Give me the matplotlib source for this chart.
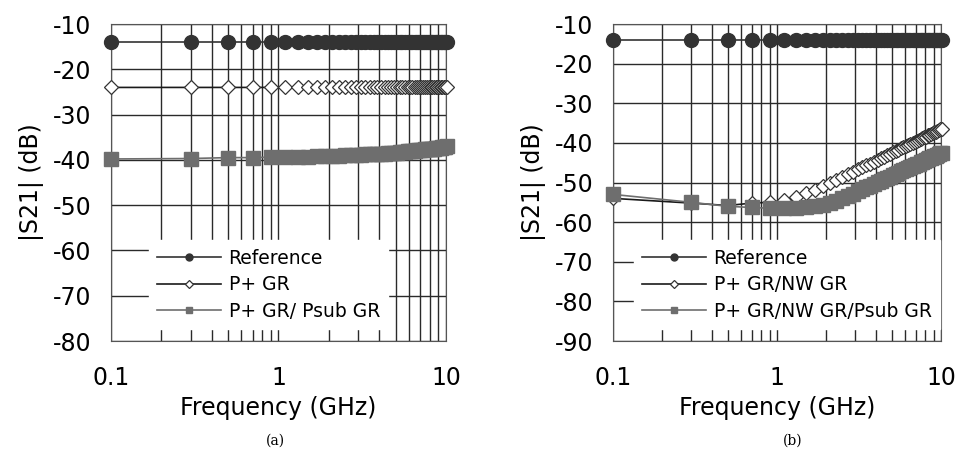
import numpy as np
import matplotlib.pyplot as plt

# frequency sweep (GHz)
freq = [0.1, 0.3, 0.5, 0.7, 0.9, 1.1, 1.3, 1.5, 1.7, 1.9,
        2.1, 2.3, 2.5, 2.7, 2.9, 3.1, 3.3, 3.5, 3.7, 3.9,
        4.1, 4.3, 4.5, 4.7, 4.9, 5.1, 5.3, 5.5, 5.7, 5.9,
        6.1, 6.3, 6.5, 6.7, 6.9, 7.1, 7.3, 7.5, 7.7, 7.9,
        8.1, 8.3, 8.5, 8.7, 8.9, 9.1, 9.3, 9.5, 9.7, 9.9, 10.1]

# (a)
ref_a = [-14.0, -14.0, -14.0, -14.0, -14.0, -14.0, -14.0, -14.0, -14.0, -14.0,
         -14.0, -14.0, -14.0, -14.0, -14.0, -14.0, -14.0, -14.0, -14.0, -14.0,
         -14.0, -14.0, -14.0, -14.0, -14.0, -14.0, -14.0, -14.0, -14.0, -14.0,
         -14.0, -14.0, -14.0, -14.0, -14.0, -14.0, -14.0, -14.0, -14.0, -14.0,
         -14.0, -14.0, -14.0, -14.0, -14.0, -14.0, -14.0, -14.0, -14.0, -14.0, -14.0]
pgr_a = [-24.0, -24.0, -24.0, -24.0, -24.0, -24.0, -24.0, -24.0, -24.0, -24.0,
         -24.0, -24.0, -24.0, -24.0, -24.0, -24.0, -24.0, -24.0, -24.0, -24.0,
         -24.0, -24.0, -24.0, -24.0, -24.0, -24.0, -24.0, -24.0, -24.0, -24.0,
         -23.9, -23.9, -23.9, -23.9, -23.9, -23.9, -23.9, -23.9, -23.9, -23.9,
         -23.9, -23.9, -23.9, -23.9, -23.9, -23.9, -23.9, -23.9, -23.9, -23.9, -23.9]
psub_a = [-39.8, -39.7, -39.5, -39.5, -39.4, -39.4, -39.3, -39.3, -39.2, -39.2,
          -39.1, -39.1, -39.0, -39.0, -38.9, -38.9, -38.8, -38.8, -38.7, -38.7,
          -38.6, -38.6, -38.5, -38.5, -38.4, -38.4, -38.3, -38.3, -38.2, -38.1,
          -38.1, -38.0, -38.0, -37.9, -37.9, -37.8, -37.8, -37.7, -37.7, -37.6,
          -37.6, -37.5, -37.5, -37.4, -37.4, -37.3, -37.3, -37.2, -37.2, -37.1, -37.0]

# (b)
ref_b = ref_a
nw_b = [-54.0, -55.2, -55.8, -55.2, -55.0, -54.5, -53.6, -52.7, -51.8, -51.0,
        -50.1, -49.3, -48.6, -47.9, -47.3, -46.7, -46.2, -45.6, -45.2, -44.7,
        -44.3, -43.9, -43.5, -43.1, -42.7, -42.4, -42.0, -41.7, -41.4, -41.1,
        -40.8, -40.5, -40.3, -40.0, -39.7, -39.5, -39.3, -39.0, -38.8, -38.6,
        -38.4, -38.1, -37.9, -37.7, -37.5, -37.3, -37.2, -37.0, -36.8, -36.6, -36.4]
psub_b = [-53.0, -55.0, -56.0, -56.3, -56.5, -56.5, -56.5, -56.3, -56.0, -55.7,
          -55.2, -54.6, -54.0, -53.4, -52.8, -52.2, -51.7, -51.2, -50.8, -50.3,
          -49.9, -49.5, -49.2, -48.8, -48.5, -48.1, -47.8, -47.5, -47.2, -46.9,
          -46.6, -46.4, -46.1, -45.9, -45.6, -45.4, -45.2, -44.9, -44.7, -44.5,
          -44.3, -44.1, -43.9, -43.7, -43.5, -43.3, -43.2, -43.0, -42.8, -42.6, -42.5]

plt.rcParams['font.family'] = ['DejaVu Sans']
plt.rcParams['axes.unicode_minus'] = False

fig = plt.figure(figsize=(9.78, 4.5), dpi=100)
ax1 = fig.add_axes([0.1135, 0.2422, 0.3425, 0.7044])
ax2 = fig.add_axes([0.6268, 0.2422, 0.3354, 0.7044])


def draw(ax, ref, s2, s3, names, ylo, leg_anchor):
    ax.plot(freq, ref, color='#333333', lw=1.2, marker='o', ms=10,
            mfc='#333333', mec='#333333', label=names[0], zorder=3, clip_on=False)
    ax.plot(freq, s2, color='#1a1a1a', lw=1.2, marker='D', ms=7.5,
            mfc='white', mec='#333333', mew=0.9, label=names[1], zorder=4, clip_on=False)
    ax.plot(freq, s3, color='#6e6e6e', lw=1.2, marker='s', ms=10,
            mfc='#6e6e6e', mec='#6e6e6e', label=names[2], zorder=5, clip_on=False)
    ax.set_xscale('log')
    ax.set_xlim(0.1, 10)
    ax.set_ylim(ylo, -10)
    ax.set_yticks(np.arange(ylo, -9, 10))
    ax.set_xticks([0.1, 1, 10])
    ax.set_xticklabels(['0.1', '1', '10'])
    ax.grid(True, which='major', color='#2a2a2a', lw=1.0)
    ax.grid(True, which='minor', axis='x', color='#2a2a2a', lw=1.0)
    ax.tick_params(which='both', length=0)
    ax.tick_params(axis='y', labelsize=17, pad=14)
    ax.tick_params(axis='x', labelsize=17, pad=18)
    for sp in ax.spines.values():
        sp.set_color('#555555')
    ax.set_xlabel('Frequency (GHz)', fontsize=17, labelpad=4)
    ax.set_ylabel('|S21| (dB)', fontsize=17, labelpad=6)
    leg = ax.legend(loc='lower left', bbox_to_anchor=leg_anchor, fontsize=13.5,
                    frameon=True, facecolor='white', edgecolor='white',
                    framealpha=1, fancybox=False, markerscale=0.5,
                    handlelength=3.4, handletextpad=0.4, labelspacing=0.4,
                    borderpad=0.45)
    leg.set_zorder(10)


draw(ax1, ref_a, pgr_a, psub_a, ['Reference', 'P+ GR', 'P+ GR/ Psub GR'],
     -80, (0.085, 0.008))
draw(ax2, ref_b, nw_b, psub_b, ['Reference', 'P+ GR/NW GR', 'P+ GR/NW GR/Psub GR'],
     -90, (0.035, 0.008))

fig.text(0.282, 0.005, '(a)', ha='center', va='bottom', fontsize=10, family='serif')
fig.text(0.811, 0.005, '(b)', ha='center', va='bottom', fontsize=10, family='serif')

plt.savefig('out.png', dpi=100)
